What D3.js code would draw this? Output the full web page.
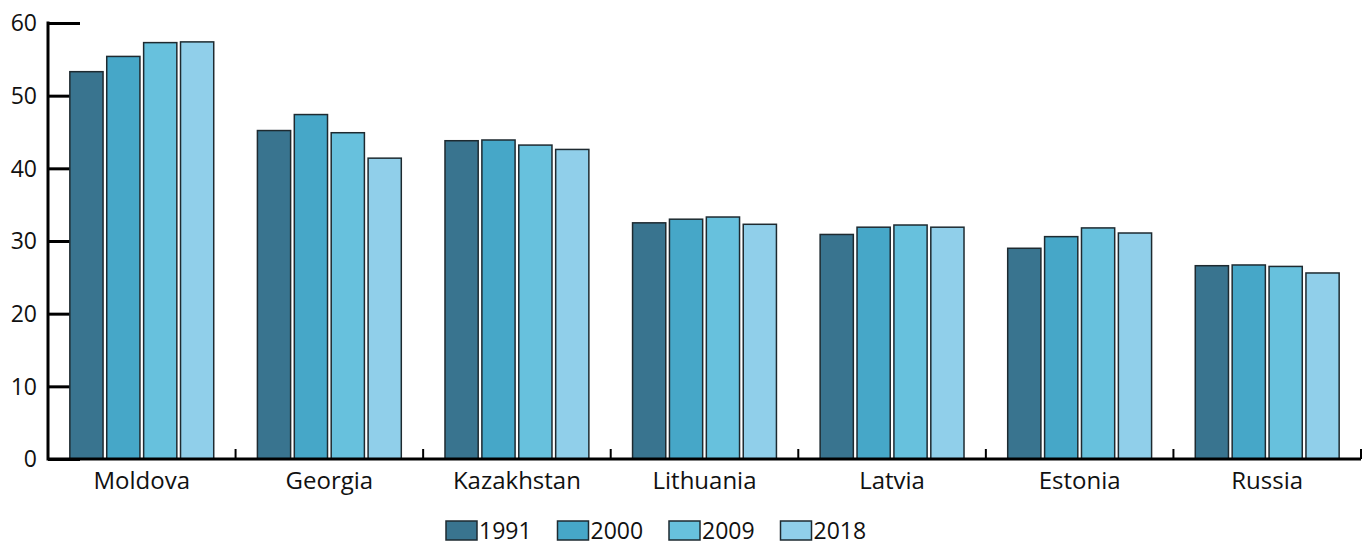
<!DOCTYPE html>
<html>
<head>
<meta charset="utf-8">
<script src="https://cdn.jsdelivr.net/npm/d3@7"></script>
<style>
  body { margin: 0; background: #fff; }
  text { font-family: "Open Sans", "Noto Sans", sans-serif; fill: #111; }
</style>
</head>
<body>
<div id="chart"></div>
<script>
let w = 1370;
let h = 545;

// data
let countries = ["Moldova", "Georgia", "Kazakhstan", "Lithuania", "Latvia", "Estonia", "Russia"];
let years = ["1991", "2000", "2009", "2018"];
let v1991 = [53.3, 45.2, 43.8, 32.5, 30.9, 29.0, 26.6];
let v2000 = [55.4, 47.4, 43.9, 33.0, 31.9, 30.6, 26.7];
let v2009 = [57.3, 44.9, 43.2, 33.3, 32.2, 31.8, 26.5];
let v2018 = [57.4, 41.4, 42.6, 32.3, 31.9, 31.1, 25.6];
let yTicks = [0, 10, 20, 30, 40, 50, 60];
let colors = ["#39748f", "#46a7c8", "#67c1dd", "#90cfea"];

let series = [v1991, v2000, v2009, v2018];

let viz = d3.select("#chart")
  .append("svg")
  .attr("width", w)
  .attr("height", h);

let x0 = d3.scaleBand().domain(countries).range([48, 1361]).paddingInner(0).paddingOuter(0);
let x1 = d3.scaleBand().domain(years).range([20, x0.bandwidth() - 20]).padding(0.1).paddingOuter(0.05);
let y = d3.scaleLinear().domain([0, 60]).range([459, 23]);
let color = d3.scaleOrdinal().domain(years).range(colors);

// y axis (ticks point inward, bars drawn over them)
let yAxis = d3.axisRight(y).tickValues(yTicks).tickSize(32).tickPadding(0);
let yg = viz.append("g").attr("transform", "translate(48,0)").call(yAxis);
yg.select(".domain").remove();
yg.selectAll(".tick line").attr("stroke", "#000").attr("stroke-width", 3);
yg.selectAll(".tick text").remove();
viz.append("line")
  .attr("x1", 48).attr("x2", 48)
  .attr("y1", y(60) - 1.5).attr("y2", y(0) + 1.5)
  .attr("stroke", "#000").attr("stroke-width", 3);

viz.selectAll(".ylabel").data(yTicks).enter()
  .append("text")
  .attr("class", "ylabel")
  .attr("x", 37)
  .attr("y", d => y(d))
  .attr("dy", "0.36em")
  .attr("text-anchor", "end")
  .style("font-size", "23px")
  .text(d => d);

// bars
let groups = viz.selectAll(".group").data(countries).enter()
  .append("g")
  .attr("class", "group")
  .attr("transform", d => "translate(" + x0(d) + ",0)");

groups.selectAll("rect")
  .data((d, i) => years.map((yr, j) => ({ year: yr, value: series[j][i] })))
  .enter()
  .append("rect")
  .attr("x", d => x1(d.year))
  .attr("width", x1.bandwidth())
  .attr("y", d => y(d.value))
  .attr("height", d => y(0) - y(d.value))
  .attr("fill", d => color(d.year))
  .attr("stroke", "#1e2a30")
  .attr("stroke-width", 1.5);

// x axis with ticks between the groups
let xg = viz.append("g").attr("transform", "translate(0," + y(0) + ")");
xg.append("line")
  .attr("x1", 48).attr("x2", 1361)
  .attr("stroke", "#000").attr("stroke-width", 3);
xg.selectAll(".xtick").data(countries).enter()
  .append("line")
  .attr("class", "xtick")
  .attr("x1", d => x0(d) + x0.bandwidth())
  .attr("x2", d => x0(d) + x0.bandwidth())
  .attr("y1", 0).attr("y2", -10)
  .attr("stroke", "#000").attr("stroke-width", 2);
xg.selectAll(".xlabel").data(countries).enter()
  .append("text")
  .attr("class", "xlabel")
  .attr("x", d => x0(d) + x0.bandwidth() / 2)
  .attr("y", 30)
  .attr("text-anchor", "middle")
  .style("font-size", "24px")
  .text(d => d);

// legend
let legend = viz.selectAll(".legend").data(years).enter()
  .append("g")
  .attr("class", "legend")
  .attr("transform", (d, i) => "translate(" + (446 + i * 111.5) + ",521)");
legend.append("rect")
  .attr("width", 31).attr("height", 19)
  .attr("fill", d => color(d))
  .attr("stroke", "#1e2a30").attr("stroke-width", 1.5);
legend.append("text")
  .attr("x", 33).attr("y", 18)
  .style("font-size", "23px")
  .text(d => d);
</script>
</body>
</html>
